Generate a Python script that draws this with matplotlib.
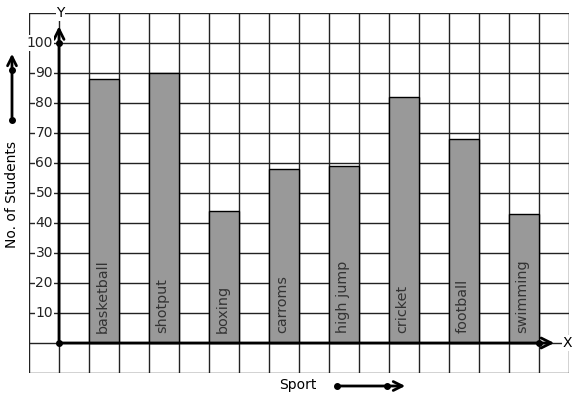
import matplotlib.pyplot as plt

sports = ['basketball', 'shotput', 'boxing', 'carroms', 'high jump', 'cricket', 'football', 'swimming']
students = [88, 90, 44, 58, 59, 82, 68, 43]
yticks = [10, 20, 30, 40, 50, 60, 70, 80, 90, 100]

W, H = 577, 399
fig = plt.figure(figsize=(W / 100, H / 100), dpi=100)
# grid spans x 29..569 px and y 13..373 px, 30 px per cell
ax = fig.add_axes([29 / W, (H - 373) / H, 540 / W, 360 / H])
ax.set_xlim(-1, 17)
ax.set_ylim(-10, 110)
ax.axis('off')

# grid
for gx in range(-1, 18):
    ax.axvline(gx, color='#222222', lw=1, zorder=1)
for gy in range(-10, 111, 10):
    ax.axhline(gy, color='#222222', lw=1, zorder=1)

# bars
xpos = [1.5 + 2 * i for i in range(len(sports))]
ax.bar(xpos, students, width=1, color='#999999', edgecolor='black', lw=1, zorder=2)
for x, name in zip(xpos, sports):
    ax.text(x - 0.05, 3.3, name, rotation=90, ha='center', va='bottom',
            fontsize=10.4, color='#333333', zorder=3)

# axes with arrows
ax.annotate('', xy=(0, 106.5), xytext=(0, 0),
            arrowprops=dict(arrowstyle='->', lw=2.0, color='black', mutation_scale=18), zorder=4)
ax.annotate('', xy=(16.6, 0), xytext=(0, 0),
            arrowprops=dict(arrowstyle='->', lw=2.0, color='black', mutation_scale=18), zorder=4)
ax.plot([0, 0, 16], [0, 100, 0], 'o', color='black', ms=4, zorder=5)
ax.text(0.05, 110, 'Y', ha='center', va='center', fontsize=10,
        bbox=dict(facecolor='white', edgecolor='none', pad=0.5), zorder=5)
ax.text(16.95, 0, 'X', ha='center', va='center', fontsize=10,
        bbox=dict(facecolor='white', edgecolor='none', pad=0.5), zorder=5)

# y tick labels
for v in yticks:
    ax.text(-0.2, v, str(v), ha='right', va='center', fontsize=10, color='#222222',
            bbox=dict(facecolor='white', edgecolor='none', pad=0.6), zorder=5)

# axis titles with arrows
fig.text(12 / W, 1 - 195 / H, 'No. of Students', rotation=90, ha='center', va='center', fontsize=10)
fig.text(298 / W, 1 - 385 / H, 'Sport', ha='center', va='center', fontsize=10)

ax.annotate('', xy=(12 / W, 1 - 51 / H), xytext=(12 / W, 1 - 120 / H),
            xycoords='figure fraction', textcoords='figure fraction',
            arrowprops=dict(arrowstyle='->', lw=2, color='black', mutation_scale=16))
ax.plot([12 / W, 12 / W], [1 - 120 / H, 1 - 70 / H], 'o', color='black', ms=4,
        transform=fig.transFigure, clip_on=False)
ax.annotate('', xy=(408 / W, 1 - 386 / H), xytext=(337 / W, 1 - 386 / H),
            xycoords='figure fraction', textcoords='figure fraction',
            arrowprops=dict(arrowstyle='->', lw=2, color='black', mutation_scale=16))
ax.plot([337 / W, 387 / W], [1 - 386 / H, 1 - 386 / H], 'o', color='black', ms=4,
        transform=fig.transFigure, clip_on=False)

fig.savefig('out.png', dpi=100)
